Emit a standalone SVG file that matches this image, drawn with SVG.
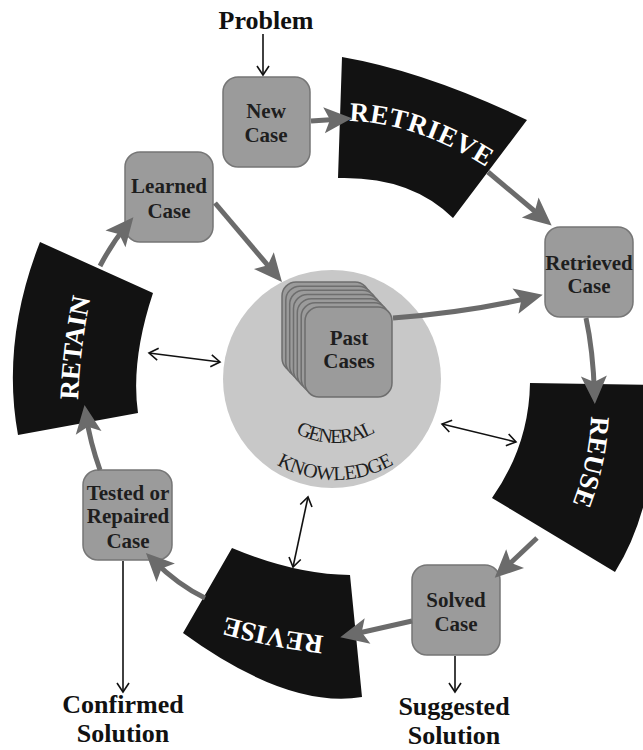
<svg xmlns="http://www.w3.org/2000/svg" width="643" height="750" viewBox="0 0 643 750">
<style>
.node rect{fill:#9b9b9b;stroke:#767676;stroke-width:1.5}
.card{fill:#9b9b9b;stroke:#6e6e6e;stroke-width:1.5}
.nt{font-family:"Liberation Serif","Times New Roman",serif;font-weight:bold;font-size:21px;fill:#1e1e1e;text-anchor:middle}
.lbl{font-family:"Liberation Serif","Times New Roman",serif;font-weight:bold;font-size:26px;fill:#111;text-anchor:middle}
.sec{fill:#121212}
.st{font-family:"Liberation Serif","Times New Roman",serif;font-weight:bold;font-size:27px;fill:#fff}
.gk{font-family:"Liberation Serif","Times New Roman",serif;font-size:20px;fill:#1e1e1e;text-anchor:middle}
.thick{fill:none;stroke:#6b6b6b;stroke-width:5;marker-end:url(#ga)}
.thin{fill:none;stroke:#111;stroke-width:1.6;marker-end:url(#va)}
.dbl{fill:none;stroke:#111;stroke-width:1.6;marker-start:url(#va);marker-end:url(#va)}
</style>
<defs>
<marker id="ga" markerUnits="userSpaceOnUse" orient="auto" refX="18" refY="0" markerWidth="30" markerHeight="30" overflow="visible">
<path d="M0,-13 L28,0 L0,13 L6,0 Z" fill="#6b6b6b"/>
</marker>
<marker id="va" markerUnits="userSpaceOnUse" orient="auto-start-reverse" refX="9" refY="0" markerWidth="12" markerHeight="14" overflow="visible">
<path d="M0,-6 L9,0 L0,6" fill="none" stroke="#111" stroke-width="1.6"/>
</marker>
<path id="pRetrieve" d="M349,121 Q420,123 494,172"/>
<path id="pReuse" d="M591,416 Q589,465 569,512"/>
<path id="pRevise" d="M324,636 Q272,630 215,614"/>
<path id="pRetain" d="M78,400 Q80,344 93,287"/>
<path id="pGeneral" d="M264.9,402.5 A81,81 0 0 0 405.1,402.5"/>
<path id="pKnow" d="M232.8,421 A118,118 0 0 0 437.2,421"/>
</defs>
<rect width="643" height="750" fill="#fff"/>

<g id="general-knowledge">
<circle cx="332" cy="379" r="109" fill="#c8c8c8"/>
<text class="gk" letter-spacing="-1.6"><textPath href="#pGeneral" startOffset="50%">GENERAL</textPath></text>
<text class="gk" letter-spacing="-0.6"><textPath href="#pKnow" startOffset="50%">KNOWLEDGE</textPath></text>
</g>

<g id="past-cases">
<rect class="card" x="282" y="282" width="87" height="90" rx="14"/>
<rect class="card" x="285.8" y="286.2" width="87" height="90" rx="14"/>
<rect class="card" x="289.7" y="290.3" width="87" height="90" rx="14"/>
<rect class="card" x="293.5" y="294.5" width="87" height="90" rx="14"/>
<rect class="card" x="297.3" y="298.7" width="87" height="90" rx="14"/>
<rect class="card" x="301.2" y="302.8" width="87" height="90" rx="14"/>
<rect class="card" x="305" y="307" width="87" height="90" rx="14"/>
<text class="nt" font-size="20" x="349" y="345">Past</text>
<text class="nt" font-size="20" x="349" y="368">Cases</text>
</g>

<g id="retrieve">
<path class="sec" d="M342,57 Q425.5,71.5 527,120 L453,218 Q410.5,176 338,178 Z"/>
<text class="st" letter-spacing="0.8"><textPath href="#pRetrieve">RETRIEVE</textPath></text>
</g>
<g id="reuse">
<path class="sec" d="M530,383 L655,385 Q660,500 615,572 L492,498 Q529,445.5 530,383 Z"/>
<text class="st"><textPath href="#pReuse">REUSE</textPath></text>
</g>
<g id="revise">
<path class="sec" d="M232,548 Q295,574.5 350,575 L362,697 Q287.5,709 183,633 Z"/>
<text class="st"><textPath href="#pRevise">REVISE</textPath></text>
</g>
<g id="retain">
<path class="sec" d="M40,242 L153,293 Q130.5,361 138,413 L18,435 Q1,341.5 40,242 Z"/>
<text class="st"><textPath href="#pRetain">RETAIN</textPath></text>
</g>

<g id="new-case" class="node">
<rect x="223" y="77" width="87" height="90" rx="15"/>
<text class="nt" x="266" y="118">New</text>
<text class="nt" x="266" y="142">Case</text>
</g>
<g id="retrieved-case" class="node">
<rect x="545" y="227" width="88" height="90" rx="15"/>
<text class="nt" x="589" y="270">Retrieved</text>
<text class="nt" x="589" y="293">Case</text>
</g>
<g id="solved-case" class="node">
<rect x="412" y="565" width="88" height="90" rx="15"/>
<text class="nt" x="456" y="607">Solved</text>
<text class="nt" x="456" y="631">Case</text>
</g>
<g id="tested-case" class="node">
<rect x="83" y="470" width="89" height="90" rx="15"/>
<text class="nt" x="128" y="500">Tested or</text>
<text class="nt" x="128" y="523">Repaired</text>
<text class="nt" x="128" y="548">Case</text>
</g>
<g id="learned-case" class="node">
<rect x="125" y="152" width="88" height="90" rx="15"/>
<text class="nt" x="169" y="193">Learned</text>
<text class="nt" x="169" y="218">Case</text>
</g>

<g id="labels">
<text class="lbl" font-size="25" x="266" y="29">Problem</text>
<text class="lbl" x="123" y="713">Confirmed</text>
<text class="lbl" x="123" y="742">Solution</text>
<text class="lbl" x="454" y="715">Suggested</text>
<text class="lbl" x="454" y="744">Solution</text>
</g>

<g id="connectors">
<path class="thick" d="M311,121 L342,119"/>
<path class="thick" d="M488,172 L544,219"/>
<path class="thick" d="M586,318 Q593,350 594.5,394"/>
<path class="thick" d="M537,538 L502,571"/>
<path class="thick" d="M412,621 L350,635"/>
<path class="thick" d="M205,598 Q178,585 153,560"/>
<path class="thick" d="M100,470 Q90,442 86,415"/>
<path class="thick" d="M100,266 Q112,243 127,225"/>
<path class="thick" d="M215,203 L275.5,274.4"/>
<path class="thick" d="M393,318 Q470,312 533,297"/>
<path class="thin" d="M263,34 L263,75"/>
<path class="thin" d="M455,656 L455,692"/>
<path class="thin" d="M123,561 L123,692"/>
<path class="dbl" d="M149,353 L220,362"/>
<path class="dbl" d="M442,424 L516,442"/>
<path class="dbl" d="M308,497 L293,567"/>
</g>
</svg>
